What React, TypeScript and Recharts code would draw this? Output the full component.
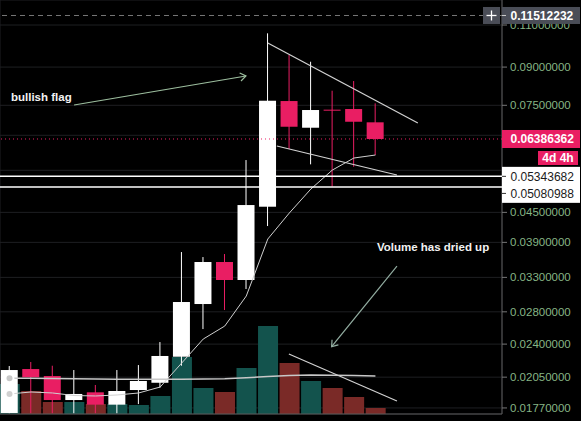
import {
  ComposedChart,
  Bar,
  Line,
  XAxis,
  YAxis,
  CartesianGrid,
  ReferenceLine,
  ReferenceDot,
} from 'recharts';

// candle slots (one per period)
const slots = [0, 1, 2, 3, 4, 5, 6, 7, 8, 9, 10, 11, 12, 13, 14, 15, 16, 17];
const opens = [0.01728, 0.02131, 0.02061, 0.01838, 0.01907, 0.01798, 0.01928, 0.01996, 0.0226, 0.02906, 0.03551, 0.03259, 0.04623, 0.07654, 0.06739, 0.07345, 0.07368, 0.06915];
const highs = [0.02162, 0.02204, 0.02165, 0.02121, 0.01975, 0.02121, 0.02172, 0.02424, 0.03724, 0.03636, 0.03689, 0.05776, 0.10573, 0.09533, 0.09233, 0.0804, 0.08421, 0.07571];
const lows = [0.01725, 0.01725, 0.01725, 0.01725, 0.01725, 0.01725, 0.01803, 0.01949, 0.02165, 0.02579, 0.02824, 0.03122, 0.04216, 0.06088, 0.05659, 0.05086, 0.05594, 0.05916];
const closes = [0.02121, 0.02049, 0.01838, 0.01892, 0.01798, 0.01919, 0.02013, 0.02268, 0.02934, 0.03551, 0.03259, 0.0466, 0.07665, 0.06771, 0.07333, 0.07325, 0.06934, 0.06386362];
const volumes = [30, 23, 12, 12, 10, 10, 9, 18, 57, 26, 22, 46, 88, 51, 33, 26, 17, 6];
const priceAvg = [0.01892, 0.0191, 0.01901, 0.01878, 0.01874, 0.01883, 0.01901, 0.01956, 0.02193, 0.02459, 0.02616, 0.03019, 0.03963, 0.04486, 0.0503, 0.05507, 0.05832, 0.05916];
const volumeAvg = [35.7, 35.7, 35.5, 35.3, 35, 34.7, 34.7, 34.7, 34.7, 35, 35.3, 36.3, 37.5, 38.5, 39, 38.8, 38.4, 38];

const priceTicks = [0.0177, 0.0205, 0.024, 0.028, 0.033, 0.039, 0.045, 0.075, 0.09, 0.11];
// grid rows whose labels sit under the price boxes
const coveredTicks = [0.055, 0.065];
const gridSlots = [1, 5, 10, 14, 18, 22];
const crossPrice = 0.11512232;
const levels = [0.05343682, 0.05080988];

const UP = '#ffffff';
const DOWN = '#e91e63';
const VOL_UP = '#13534d';
const VOL_DOWN = '#7a2a27';
const GRID = '#1e1f22';
const FONT = '"Liberation Sans", Arial, sans-serif';
const X_DOMAIN = [-0.441, 22.88];
const TOP = 2000;

const data = slots.map((s, i) => ({
  slot: s,
  open: opens[i],
  close: closes[i],
  wick: [lows[i], highs[i]],
  body: [Math.min(opens[i], closes[i]), Math.max(opens[i], closes[i])],
  volume: volumes[i],
  avg: priceAvg[i],
  volAvg: volumeAvg[i],
}));

const isUp = (p: any) => p.close >= p.open;

const Body = (p: any) => (
  <rect x={p.x} y={p.y} width={p.width} height={Math.max(p.height, 1)} fill={isUp(p.payload) ? UP : DOWN} />
);

const Wick = (p: any) => (
  <rect x={p.x} y={p.y} width={p.width} height={p.height} fill={isUp(p.payload) ? UP : DOWN} />
);

const VolBar = (p: any) => (
  <rect x={p.x} y={p.y} width={p.width} height={p.height} fill={isUp(p.payload) ? VOL_UP : VOL_DOWN} />
);

const arrow = (color: string) => (p: any) => {
  const { x1, y1, x2, y2 } = p;
  const a = Math.atan2(y2 - y1, x2 - x1);
  const len = 7;
  const s = 0.62;
  const ax = x2 - len * Math.cos(a - s);
  const ay = y2 - len * Math.sin(a - s);
  const bx = x2 - len * Math.cos(a + s);
  const by = y2 - len * Math.sin(a + s);
  return (
    <g stroke={color} strokeWidth={1.2} fill="none">
      <line x1={x1} y1={y1} x2={x2} y2={y2} />
      <polyline points={`${ax},${ay} ${x2},${y2} ${bx},${by}`} />
    </g>
  );
};

const note = (text: string) => (p: any) => (
  <text x={p.cx} y={p.cy} fill="#f2f2f2" fontSize={11.5} fontWeight="bold" fontFamily={FONT}>
    {text}
  </text>
);

const CrossLabel = ({ viewBox }: any) => {
  const ax = viewBox.x + viewBox.width;
  const y = viewBox.y;
  return (
    <g>
      <rect x={ax - 19} y={y - 8.5} width={17} height={17} fill="#4a4d57" />
      <line x1={ax - 15.5} y1={y} x2={ax - 5.5} y2={y} stroke="#fff" strokeWidth={1.3} />
      <line x1={ax - 10.5} y1={y - 5} x2={ax - 10.5} y2={y + 5} stroke="#fff" strokeWidth={1.3} />
      <rect x={ax} y={y - 8.5} width={78} height={17} fill="#4a4d57" />
      <line x1={ax} y1={y} x2={ax + 4} y2={y} stroke="#ccc" />
      <text x={ax + 8.5} y={y + 4.5} fill="#fff" fontSize={12} fontWeight="bold" fontFamily={FONT}>
        {crossPrice.toFixed(8)}
      </text>
    </g>
  );
};

const LastLabel = ({ viewBox }: any) => {
  const ax = viewBox.x + viewBox.width;
  const y = viewBox.y;
  return (
    <g>
      <rect x={ax} y={y - 9} width={78} height={18} fill={DOWN} />
      <text x={ax + 8.5} y={y + 4.5} fill="#fff" fontSize={12} fontWeight="bold" fontFamily={FONT}>
        {closes[closes.length - 1].toFixed(8)}
      </text>
      <rect x={ax + 36} y={y + 12} width={40} height={14} fill={DOWN} />
      <text x={ax + 56} y={y + 23} fill="#fff" fontSize={12} fontWeight="bold" fontFamily={FONT} textAnchor="middle">
        4d 4h
      </text>
    </g>
  );
};

const LevelLabel = (i: number) => ({ viewBox }: any) => {
  const ax = viewBox.x + viewBox.width;
  const y = viewBox.y;
  const ty = i === 0 ? y : y + 6.5;
  return (
    <g>
      {i === 0 && <rect x={ax} y={y - 9.5} width={78} height={36} fill="#fff" />}
      <line x1={ax} y1={ty} x2={ax + 4} y2={ty} stroke="#333" />
      <text x={ax + 8.5} y={ty + 4.5} fill="#1a1a1a" fontSize={12} fontFamily={FONT}>
        {levels[i].toFixed(8)}
      </text>
    </g>
  );
};

export default function App() {
  return (
    <div style={{ position: 'fixed', left: 0, top: 0, width: 581, height: 421, background: '#000' }}>
      <ComposedChart width={581} height={421} data={data} margin={{ top: 0, right: 0, bottom: 0, left: 0 }}>
        <CartesianGrid stroke={GRID} />
        <XAxis
          dataKey="slot"
          type="number"
          domain={X_DOMAIN}
          allowDataOverflow
          ticks={gridSlots}
          tick={false}
          tickLine={false}
          axisLine={{ stroke: '#5a5a5a' }}
          height={7}
        />
        <XAxis xAxisId="w" dataKey="slot" type="number" domain={X_DOMAIN} allowDataOverflow hide />
        <XAxis xAxisId="v" dataKey="slot" type="number" domain={X_DOMAIN} allowDataOverflow hide />
        <YAxis
          orientation="right"
          scale="log"
          domain={[0.017196, 0.12395]}
          allowDataOverflow
          ticks={priceTicks}
          interval={0}
          width={79}
          tickSize={5}
          tickMargin={3}
          tickFormatter={(v: number) => v.toFixed(8)}
          tick={{ fill: '#86b585', fontSize: 11.5, fontFamily: FONT }}
          tickLine={{ stroke: '#777' }}
          axisLine={{ stroke: '#5a5a5a' }}
        />
        <YAxis yAxisId="v" domain={[0, 414]} hide />

        {coveredTicks.map((t) => (
          <ReferenceLine key={t} y={t} stroke={GRID} zIndex={-100} />
        ))}

        <ReferenceLine y={closes[closes.length - 1]} stroke={DOWN} strokeDasharray="1 3" label={<LastLabel />} zIndex={TOP} />

        <Bar xAxisId="v" yAxisId="v" dataKey="volume" barSize={20} shape={VolBar} isAnimationActive={false} />
        <Line xAxisId="v" yAxisId="v" dataKey="volAvg" stroke="#c8c8c8" strokeWidth={1.5} dot={false} isAnimationActive={false} />

        <Bar xAxisId="w" dataKey="wick" barSize={1} shape={Wick} isAnimationActive={false} />
        <Bar dataKey="body" barSize={17} shape={Body} isAnimationActive={false} />
        <Line dataKey="avg" stroke="#d0d0d0" strokeWidth={1} dot={false} isAnimationActive={false} />

        <ReferenceLine y={levels[0]} stroke="#fff" strokeWidth={1.5} label={LevelLabel(0)} zIndex={TOP} />
        <ReferenceLine y={levels[1]} stroke="#fff" strokeWidth={1.5} label={LevelLabel(1)} zIndex={TOP} />

        {/* flag drawn on price */}
        <ReferenceLine segment={[{ x: 12.0, y: 0.10095 }, { x: 18.97, y: 0.06892 }]} stroke="#d2d2d2" strokeWidth={1.2} />
        <ReferenceLine segment={[{ x: 12.42, y: 0.06176 }, { x: 18.0, y: 0.05378 }]} stroke="#d2d2d2" strokeWidth={1.2} />
        <ReferenceLine segment={[{ x: 3.0, y: 0.0751 }, { x: 10.985, y: 0.08624 }]} shape={arrow('#9dbf9f')} />
        <ReferenceDot x={0.07} y={0.07673} r={0} shape={note('bullish flag')} />

        {/* volume notes */}
        <ReferenceLine xAxisId="v" yAxisId="v" segment={[{ x: 12.98, y: 60 }, { x: 18.0, y: 13 }]} stroke="#d2d2d2" strokeWidth={1.2} />
        <ReferenceLine segment={[{ x: 18.0, y: 0.03484 }, { x: 14.965, y: 0.02371 }]} shape={arrow('#93aea2')} />
        <ReferenceDot x={17.07} y={0.03742} r={0} shape={note('Volume has dried up')} />

        <ReferenceLine y={crossPrice} stroke="#777" strokeDasharray="5 4" label={<CrossLabel />} zIndex={TOP} />
      </ComposedChart>
    </div>
  );
}
